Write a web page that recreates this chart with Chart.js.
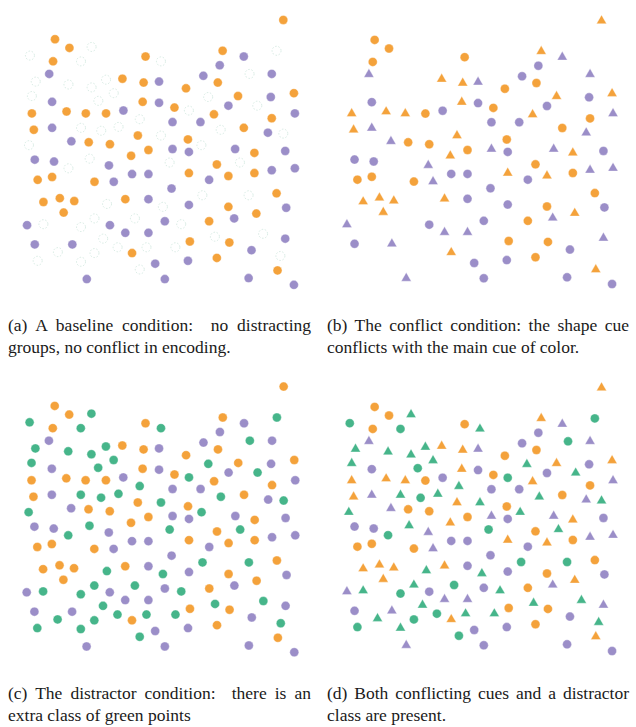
<!DOCTYPE html>
<html>
<head>
<meta charset="utf-8">
<script src="https://cdn.jsdelivr.net/npm/chart.js@4.4.1/dist/chart.umd.min.js"></script>
<style>
  body { margin: 0; background: #fff; width: 636px; height: 727px; position: relative; overflow: hidden; }
  canvas { position: absolute; }
  .cap {
    position: absolute;
    font-family: "Liberation Serif", "Times New Roman", serif;
    font-size: 17.5px;
    line-height: 22px;
    color: #1a1a1a;
  }
  .cap .l1 { display: block; text-align: justify; text-align-last: justify; white-space: nowrap; }
  .cap .l2 { display: block; text-align: left; white-space: nowrap; }
</style>
</head>
<body>
<canvas id="pa" width="300" height="300" style="left:10px;top:0px"></canvas>
<canvas id="pb" width="300" height="300" style="left:329px;top:0px"></canvas>
<canvas id="pc" width="300" height="300" style="left:10px;top:367px"></canvas>
<canvas id="pd" width="300" height="300" style="left:329px;top:367px"></canvas>
<div class="cap" id="ca" style="left:8px;top:314px;width:303px"></div>
<div class="cap" id="cb" style="left:327px;top:314px;width:302px"></div>
<div class="cap" id="cc" style="left:8px;top:682px;width:303px"></div>
<div class="cap" id="cd" style="left:327px;top:682px;width:302px"></div>
<script>
// point positions (same layout in all four panels), y grows downwards
const pointX = [41, 56, 79, 15, 39, 68, 135, 151, 35, 21, 55, 79, 94, 111, 133, 149, 17, 38, 86, 102,
  132, 149, 17, 53, 73, 94, 112, 129, 19, 38, 68, 89, 107, 127, 151, 14, 58, 76, 98, 138,
  278, 215, 237, 271, 212, 195, 243, 266, 177, 210, 200, 231, 265, 289, 165, 180, 221, 251, 206, 266,
  290, 163, 192, 213, 237, 262, 278, 179, 193, 163, 180, 228, 248, 280,
  160, 209, 233, 180, 221, 248, 266, 290, 201, 162, 194, 242, 271, 153, 180, 221, 281, 155, 172, 201,
  227, 250, 257, 280, 181, 207, 222, 166, 245, 275, 179, 209, 272, 155, 242, 289,
  120, 20, 40, 77, 55, 97, 23, 38, 82, 102, 121, 138, 29, 46, 61, 50, 95, 114, 138, 12,
  29, 68, 82, 98, 124, 114, 138, 20, 59, 91, 44, 82, 106, 121, 136, 23, 68, 145, 129, 74];
const pointY = [35, 44, 43, 52, 58, 58, 53, 58, 71, 79, 82, 85, 77, 76, 80, 79, 94, 100, 99, 91,
  100, 101, 112, 110, 112, 112, 109, 118, 129, 127, 127, 130, 126, 135, 135, 145, 141, 142, 144, 150,
  15, 47, 53, 47, 62, 73, 71, 71, 86, 80, 95, 94, 95, 91, 106, 109, 104, 104, 113, 117,
  112, 121, 121, 129, 127, 132, 133, 139, 145, 149, 152, 149, 153, 151,
  163, 165, 163, 174, 177, 174, 171, 169, 181, 190, 197, 197, 195, 209, 207, 209, 210, 224, 227, 224,
  221, 216, 237, 242, 245, 240, 246, 251, 254, 260, 265, 262, 275, 284, 283, 290,
  156, 160, 162, 159, 169, 166, 181, 178, 183, 183, 175, 175, 204, 200, 203, 215, 206, 201, 201, 228,
  227, 230, 221, 228, 221, 236, 236, 248, 248, 242, 256, 257, 251, 257, 251, 265, 266, 268, 274, 284];
// class: O = orange, P = purple, G = green (distractor)
const pointClass = ["O","O","G","G","O","G","O","G","P","G","G","G","G","O","O","P","G","P","G","G",
  "O","P","O","O","O","O","P","G","O","P","G","G","G","O","G","G","P","O","O","O",
  "O","O","P","G","P","P","G","P","O","O","G","O","P","O","O","G","P","G","O","O",
  "P","P","P","G","O","P","G","O","G","P","P","P","O","P",
  "G","O","G","O","O","O","P","P","P","P","G","G","O","G","P","O","P","P","G","O",
  "P","O","G","P","O","G","O","G","P","G","P","O","O","P","P","P",
  "O","P","P","G","G","P","O","O","O","P","P","P","O","O","O","O","G","O","P","P",
  "G","G","G","P","G","P","P","P","P","G","G","G","G","O","G","G","G","P","G","P"];
// shape used in the conflict panels: c = circle, t = triangle
const pointShape = ["c","c","t","c","c","c","c","t","t","t","t","t","t","t","t","t","t","c","c","t",
  "t","c","t","t","t","c","c","t","t","t","t","c","t","t","t","t","t","c","c","c",
  "t","t","t","c","c","c","c","t","c","c","t","t","c","t","c","c","c","t","t","c",
  "t","c","c","t","c","t","t","c","t","t","c","t","t","c",
  "c","c","t","t","t","c","t","t","c","c","c","c","c","t","c","c","c","c","t","c",
  "t","t","t","t","c","t","c","t","c","t","c","c","t","c","c","c",
  "t","c","c","t","c","t","c","c","c","t","c","c","t","t","t","t","t","t","c","t",
  "t","c","t","c","c","t","t","c","t","t","t","c","c","t","t","c","t","c","c","t"];

// caption lines as they break in the figure
const captions = [
  ["(a) A baseline condition:\u00a0 no distracting", "groups, no conflict in encoding."],
  ["(b) The conflict condition: the shape cue", "conflicts with the main cue of color."],
  ["(c) The distractor condition:\u00a0 there is an", "extra class of green points"],
  ["(d) Both conflicting cues and a distractor", "class are present."]
];

const colors = { O: "#f4a23b", P: "#9b8ec8", G: "#46b58a" };

// dashed outlines for the faint green points of panel (a)
const dashPlugin = {
  id: "dash",
  beforeDatasetDraw(chart, args) {
    if (chart.data.datasets[args.index].dashed) chart.ctx.setLineDash([1.6, 1.6]);
  },
  afterDatasetDraw(chart) {
    chart.ctx.setLineDash([]);
  }
};

function classSet(cls, useShape, faint) {
  const idx = [];
  pointClass.forEach((c, i) => { if (c === cls) idx.push(i); });
  const styles = idx.map(i => useShape && pointShape[i] === "t" ? "triangle" : "circle");
  return {
    data: idx.map(i => ({ x: pointX[i], y: pointY[i] })),
    pointStyle: styles,
    pointRadius: styles.map(s => s === "triangle" ? 5.8 : 4.5),
    backgroundColor: faint ? "rgba(0,0,0,0)" : colors[cls],
    borderColor: faint ? "rgba(150,200,180,0.35)" : "rgba(255,255,255,0.6)",
    borderWidth: faint ? 1 : 0.6,
    dashed: faint,
    clip: false
  };
}

function panel(id, sets) {
  new Chart(document.getElementById(id), {
    type: "scatter",
    data: { datasets: sets },
    options: {
      responsive: false,
      animation: false,
      events: [],
      layout: { padding: 0 },
      plugins: { legend: { display: false }, tooltip: { enabled: false } },
      scales: {
        x: { type: "linear", min: 0, max: 300, display: false },
        y: { type: "linear", min: 0, max: 300, reverse: true, display: false }
      }
    },
    plugins: [dashPlugin]
  });
}

panel("pa", [classSet("G", false, true), classSet("O", false), classSet("P", false)]);
panel("pb", [classSet("O", true), classSet("P", true)]);
panel("pc", [classSet("O", false), classSet("P", false), classSet("G", false)]);
panel("pd", [classSet("O", true), classSet("P", true), classSet("G", true)]);

["ca", "cb", "cc", "cd"].forEach((id, i) => {
  const box = document.getElementById(id);
  captions[i].forEach((line, k) => {
    const s = document.createElement("span");
    s.className = k === 0 ? "l1" : "l2";
    s.textContent = line;
    box.appendChild(s);
  });
});
</script>
</body>
</html>
